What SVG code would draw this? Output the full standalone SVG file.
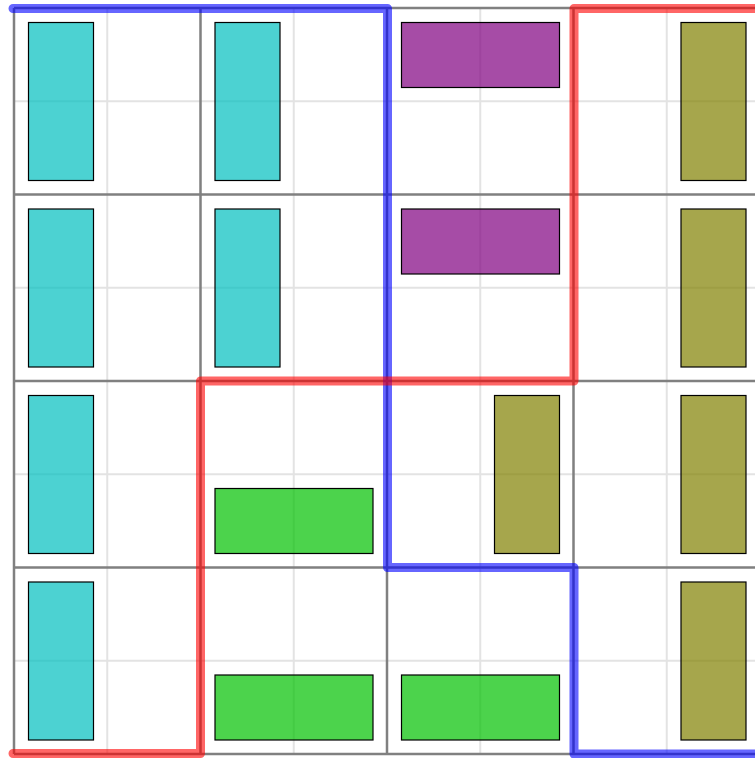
<svg xmlns="http://www.w3.org/2000/svg" width="755" height="758" viewBox="0 0 755 758">
<style>
.minor{stroke:#e3e3e3;stroke-width:2;fill:none}
.major{stroke:#808080;stroke-width:2.5;fill:none}
.box{stroke:#000;stroke-width:1.2;fill-opacity:0.7}
.c{fill:#00bfbf}.p{fill:#800080}.o{fill:#808000}.g{fill:#00c000}
.route{fill:none;stroke-width:9;stroke-opacity:0.6;stroke-linecap:round;stroke-linejoin:round}
</style>
<rect width="755" height="758" fill="#fff"/>
<g id="grid">
<path class="minor" d="M107.25 8V754M293.75 8V754M480.25 8V754M666.75 8V754M14 101.25H760M14 287.75H760M14 474.25H760M14 660.75H760"/>
<path class="major" d="M14 8V754M200.5 8V754M387 8V754M573.5 8V754M14 8H760M14 194.5H760M14 381H760M14 567.5H760M14 754H760"/>
</g>
<g id="n-c00"><rect class="box c" x="28.5" y="22.5" width="65" height="158"/></g>
<g id="n-c01"><rect class="box c" x="28.5" y="209" width="65" height="158"/></g>
<g id="n-c02"><rect class="box c" x="28.5" y="395.5" width="65" height="158"/></g>
<g id="n-c03"><rect class="box c" x="28.5" y="582" width="65" height="158"/></g>
<g id="n-c10"><rect class="box c" x="215" y="22.5" width="65" height="158"/></g>
<g id="n-c11"><rect class="box c" x="215" y="209" width="65" height="158"/></g>
<g id="n-p20"><rect class="box p" x="401.5" y="22.5" width="158" height="65"/></g>
<g id="n-p21"><rect class="box p" x="401.5" y="209" width="158" height="65"/></g>
<g id="n-o22"><rect class="box o" x="494.5" y="395.5" width="65" height="158"/></g>
<g id="n-o30"><rect class="box o" x="681" y="22.5" width="65" height="158"/></g>
<g id="n-o31"><rect class="box o" x="681" y="209" width="65" height="158"/></g>
<g id="n-o32"><rect class="box o" x="681" y="395.5" width="65" height="158"/></g>
<g id="n-o33"><rect class="box o" x="681" y="582" width="65" height="158"/></g>
<g id="n-g12"><rect class="box g" x="215" y="488.5" width="158" height="65"/></g>
<g id="n-g13"><rect class="box g" x="215" y="675" width="158" height="65"/></g>
<g id="n-g23"><rect class="box g" x="401.5" y="675" width="158" height="65"/></g>
<g id="connectors">
<path class="route" stroke="#0000ff" d="M13 8.5H387.5V567.5H574V754H762"/>
<path class="route" stroke="#ff0000" d="M13 753.5H200.5V381H574V8.5H762"/>
</g>
</svg>
